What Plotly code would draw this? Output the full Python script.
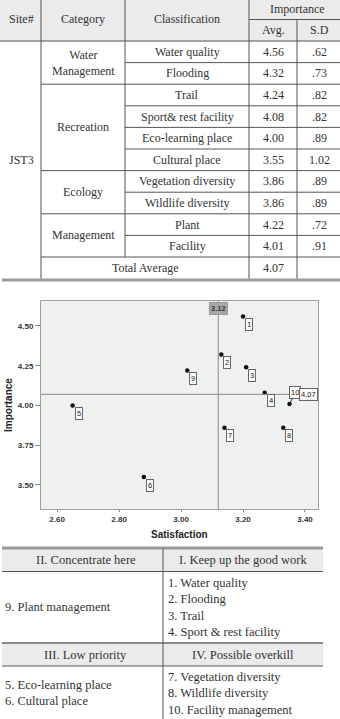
import plotly.graph_objects as go

W, H = 340, 719

# ---------------- data ----------------
site = "JST3"
categories = ["Water<br>Management", "Recreation", "Ecology", "Management"]
category_rows = [2, 4, 2, 2]
classifications = ["Water quality", "Flooding", "Trail", "Sport& rest facility",
                   "Eco-learning place", "Cultural place", "Vegetation diversity",
                   "Wildlife diversity", "Plant", "Facility"]
importance_avg = [4.56, 4.32, 4.24, 4.08, 4.00, 3.55, 3.86, 3.86, 4.22, 4.01]
importance_sd = [".62", ".73", ".82", ".82", ".89", "1.02", ".89", ".89", ".72", ".91"]
total_average = 4.07
satisfaction = [3.20, 3.13, 3.21, 3.27, 2.65, 2.88, 3.14, 3.33, 3.02, 3.35]
satisfaction_mean = 3.12
point_labels = ["1", "2", "3", "4", "5", "6", "7", "8", "9", "10"]
x_ticks = [2.60, 2.80, 3.00, 3.20, 3.40]
y_ticks = [3.50, 3.75, 4.00, 4.25, 4.50]

quad_headers = ["II. Concentrate here", "I. Keep up the good work",
                "III. Low priority", "IV. Possible overkill"]
quad_items = {
    "II": ["9. Plant management"],
    "I": ["1. Water quality", "2. Flooding", "3. Trail", "4. Sport & rest facility"],
    "III": ["5. Eco-learning place", "6. Cultural place"],
    "IV": ["7. Vegetation diversity", "8. Wildlife diversity", "10. Facility management"],
}

# ---------------- helpers ----------------
def X(p):
    return p / W

def Y(p):
    return 1 - p / H

shapes = []
annos = []
LINE = "#555555"
SERIF = "Liberation Serif"
TXT = "#333333"

def hline(y, x0, x1, color=LINE, width=1):
    shapes.append(dict(type="line", xref="paper", yref="paper", x0=X(x0), x1=X(x1),
                       y0=Y(y), y1=Y(y), line=dict(color=color, width=width)))

def vline(x, y0, y1, color=LINE, width=1):
    shapes.append(dict(type="line", xref="paper", yref="paper", x0=X(x), x1=X(x),
                       y0=Y(y0), y1=Y(y1), line=dict(color=color, width=width)))

def rect(x0, y0, x1, y1, fill):
    shapes.append(dict(type="rect", xref="paper", yref="paper", x0=X(x0), x1=X(x1),
                       y0=Y(y0), y1=Y(y1), fillcolor=fill, line=dict(width=0), layer="below"))

def text(x, y, s, size=12, anchor="center", family=SERIF, color=TXT):
    annos.append(dict(x=X(x), y=Y(y), xref="paper", yref="paper", text=s, showarrow=False,
                      xanchor=anchor, yanchor="middle",
                      font=dict(family=family, size=size, color=color)))

# ---------------- top table ----------------
cx = [0, 41, 125, 249, 297, 340]
hdr_mid = 19.5
hdr_bot = 41
row_h = 21.6
rows_y = [hdr_bot + i * row_h for i in range(len(classifications) + 2)]

rect(0, 0, 340, hdr_bot, "#ebebeb")
hline(hdr_bot, 0, 340)
hline(hdr_mid, cx[3], 340)

cat_breaks = set()
acc = 0
for n in category_rows:
    acc += n
    cat_breaks.add(acc)
for i in range(1, len(classifications) + 1):
    y = rows_y[i]
    if i in cat_breaks:
        hline(y, cx[1], 340)
    else:
        hline(y, cx[2], 340)
hline(rows_y[-1] + 1.5, 2, 340, color="#9a9a9a", width=3)

vline(cx[1], 0, rows_y[-1])
vline(cx[2], 0, rows_y[-2])
vline(cx[3], 0, rows_y[-1])
vline(cx[4], hdr_mid, rows_y[-1])

text(21, 19, "Site#")
text(83, 19, "Category")
text(187, 19, "Classification")
text(297, 8.5, "Importance")
text(273, 30.5, "Avg.")
text(319, 30.5, "S.D")

for i, (c, a, s) in enumerate(zip(classifications, importance_avg, importance_sd)):
    yc = (rows_y[i] + rows_y[i + 1]) / 2
    text(187, yc, c)
    text(273, yc, f"{a:.2f}")
    text(319, yc, s)

start = 0
for cat, n in zip(categories, category_rows):
    yc = (rows_y[start] + rows_y[start + n]) / 2
    text(83, yc, cat)
    start += n

text(21, (rows_y[0] + rows_y[-1]) / 2, site)
yt = (rows_y[-2] + rows_y[-1]) / 2
text(145, yt, "Total Average")
text(273, yt, f"{total_average:.2f}")

# ---------------- scatter ----------------
plot_l, plot_r, plot_t, plot_b = 41, 318, 301, 509
fig = go.Figure()
fig.add_trace(go.Scatter(x=satisfaction, y=importance_avg, mode="markers",
                         marker=dict(color="#111111", size=4.5), showlegend=False,
                         hoverinfo="skip"))

SANS = "Liberation Sans"
leader = {"10": (6, -11)}
for sx, iy, lab in zip(satisfaction, importance_avg, point_labels):
    if lab in leader:
        ax, ay = leader[lab]
        annos.append(dict(x=sx, y=iy, xref="x", yref="y", text=lab, showarrow=True,
                          arrowhead=0, arrowwidth=1, arrowcolor="#333", ax=ax, ay=ay,
                          standoff=2, bgcolor="#fbfbfb", bordercolor="#666",
                          borderwidth=1, borderpad=1,
                          font=dict(family=SANS, size=7.5, color="#222")))
    else:
        annos.append(dict(x=sx, y=iy, xref="x", yref="y", text=lab, showarrow=False,
                          xshift=6, yshift=-8, bgcolor="#fbfbfb", bordercolor="#666",
                          borderwidth=1, borderpad=1,
                          font=dict(family=SANS, size=7.5, color="#222")))

shapes.append(dict(type="line", xref="x", yref="y domain", x0=satisfaction_mean,
                   x1=satisfaction_mean, y0=0, y1=1, line=dict(color="#8a8a8a", width=1)))
shapes.append(dict(type="line", xref="x domain", yref="y", x0=0, x1=1,
                   y0=total_average, y1=total_average, line=dict(color="#8a8a8a", width=1)))

annos.append(dict(x=satisfaction_mean, y=1, xref="x", yref="y domain",
                  text=f"<b>{satisfaction_mean:.2f}</b>",
                  showarrow=False, xanchor="center", yanchor="top", yshift=-1,
                  bgcolor="#a8a8a8", bordercolor="#999", borderwidth=1, borderpad=1,
                  font=dict(family=SANS, size=7.5, color="#333")))
annos.append(dict(x=1, y=total_average, xref="x domain", yref="y", text=f"{total_average:.2f}",
                  showarrow=False, xanchor="right", yanchor="middle", bgcolor="#fbfbfb",
                  bordercolor="#666", borderwidth=1, borderpad=1,
                  font=dict(family=SANS, size=7.5, color="#222")))

annos.append(dict(x=X(8), y=Y((plot_t + plot_b) / 2), xref="paper", yref="paper",
                  text="<b>Importance</b>", textangle=-90, showarrow=False,
                  xanchor="center", yanchor="middle",
                  font=dict(family=SANS, size=10, color="#222")))
annos.append(dict(x=X(179), y=Y(534), xref="paper", yref="paper",
                  text="<b>Satisfaction</b>", showarrow=False,
                  xanchor="center", yanchor="middle",
                  font=dict(family=SANS, size=10, color="#222")))

# ---------------- bottom table ----------------
bx0, bx1, bmid = 2, 323, 163
h1_top, h1_bot = 548, 571.5
h2_top, h2_bot = 643, 666
rect(bx0, h1_top, bx1, h1_bot, "#ebebeb")
rect(bx0, h2_top, bx1, h2_bot, "#ebebeb")
hline(h1_top, bx0, bx1, color="#9a9a9a", width=3)
hline(h1_bot, bx0, bx1)
hline(h2_top, bx0, bx1, color="#8a8a8a", width=2)
hline(h2_bot, bx0, bx1)
vline(bmid, h1_top, H)

BS = 12.5
text((bx0 + bmid) / 2 + 3, (h1_top + h1_bot) / 2, quad_headers[0], size=BS)
text((bmid + bx1) / 2, (h1_top + h1_bot) / 2, quad_headers[1], size=BS)
text((bx0 + bmid) / 2 + 3, (h2_top + h2_bot) / 2, quad_headers[2], size=BS)
text((bmid + bx1) / 2, (h2_top + h2_bot) / 2, quad_headers[3], size=BS)

lh = 16.5

def block(items, x, y_center):
    n = len(items)
    for k, s in enumerate(items):
        yy = y_center + (k - (n - 1) / 2) * lh
        text(x, yy, s, size=BS, anchor="left")

block(quad_items["II"], 3, (h1_bot + h2_top) / 2)
block(quad_items["I"], 166, (h1_bot + h2_top) / 2)
block(quad_items["III"], 3, 693)
block(quad_items["IV"], 166, 693)

fig.update_layout(
    width=W, height=H, margin=dict(l=0, r=0, t=0, b=0),
    paper_bgcolor="white", plot_bgcolor="#eff1f1",
    shapes=shapes, annotations=annos,
    xaxis=dict(domain=[X(plot_l), X(plot_r)], range=[2.548, 3.442], tickvals=x_ticks,
               ticktext=[f"{v:.2f}" for v in x_ticks], showgrid=False, zeroline=False,
               showline=True, mirror=True, linecolor="#a0a0a0", linewidth=1,
               ticks="outside", ticklen=2, tickcolor="#888",
               tickfont=dict(family=SANS, size=8, color="#333", weight="bold")),
    yaxis=dict(domain=[Y(plot_b), Y(plot_t)], range=[3.349, 4.657], tickvals=y_ticks,
               ticktext=[f"{v:.2f}" for v in y_ticks], showgrid=False, zeroline=False,
               showline=True, mirror=True, linecolor="#a0a0a0", linewidth=1,
               ticks="outside", ticklen=5, tickcolor="#888",
               tickfont=dict(family=SANS, size=8, color="#333", weight="bold")),
)

fig.write_html("out.html")
